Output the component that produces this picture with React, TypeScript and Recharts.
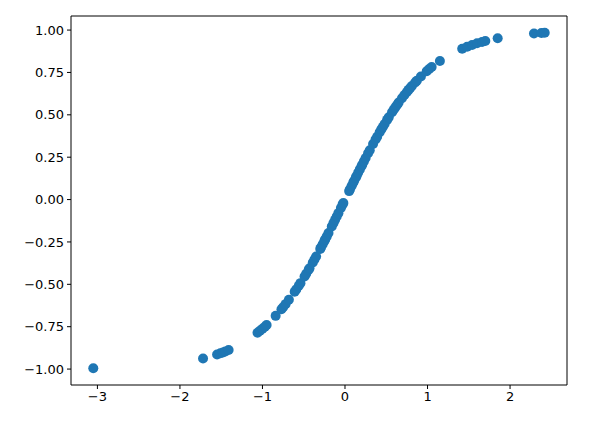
import { ScatterChart, Scatter, XAxis, YAxis, ReferenceArea } from 'recharts'

const xValues = [
    -3.05, -1.72, -1.55, -1.51, -1.48, -1.45, -1.41, -1.06, -1.03, -1.0, -0.97, -0.95,
    -0.84, -0.77, -0.75, -0.72, -0.68, -0.61, -0.59, -0.56, -0.54, -0.49, -0.47, -0.44,
    -0.43, -0.39, -0.37, -0.35, -0.3, -0.29, -0.27, -0.25, -0.24, -0.22, -0.2, -0.16,
    -0.14, -0.12, -0.1, -0.08, -0.05, -0.03, -0.02, 0.05, 0.06, 0.08, 0.1, 0.11,
    0.13, 0.14, 0.16, 0.18, 0.2, 0.21, 0.23, 0.25, 0.28, 0.3, 0.34, 0.37,
    0.39, 0.42, 0.44, 0.46, 0.48, 0.51, 0.53, 0.57, 0.59, 0.61, 0.63, 0.65,
    0.69, 0.72, 0.75, 0.77, 0.79, 0.81, 0.85, 0.87, 0.92, 0.99, 1.02, 1.05,
    1.15, 1.42, 1.48, 1.54, 1.6, 1.66, 1.7, 1.85, 2.29, 2.38, 2.42,
]

const yValues = [
    -0.995, -0.938, -0.914, -0.907, -0.902, -0.896, -0.887, -0.786, -0.774, -0.762, -0.75, -0.74,
    -0.686, -0.647, -0.635, -0.617, -0.591, -0.544, -0.53, -0.508, -0.493, -0.454, -0.438, -0.414,
    -0.405, -0.371, -0.354, -0.336, -0.291, -0.282, -0.264, -0.245, -0.235, -0.217, -0.197, -0.159,
    -0.139, -0.119, -0.1, -0.08, -0.05, -0.03, -0.02, 0.05, 0.06, 0.08, 0.1, 0.11,
    0.129, 0.139, 0.159, 0.178, 0.197, 0.207, 0.226, 0.245, 0.273, 0.291, 0.328, 0.354,
    0.371, 0.397, 0.414, 0.43, 0.446, 0.47, 0.485, 0.515, 0.53, 0.544, 0.558, 0.572,
    0.598, 0.617, 0.635, 0.647, 0.658, 0.67, 0.691, 0.701, 0.726, 0.757, 0.77, 0.782,
    0.818, 0.89, 0.902, 0.912, 0.922, 0.93, 0.935, 0.952, 0.98, 0.983, 0.984,
]

const xTicks = [-3, -2, -1, 0, 1, 2]
const yTicks = [-1, -0.75, -0.5, -0.25, 0, 0.25, 0.5, 0.75, 1]

const xDomain: [number, number] = [-3.32, 2.69]
const yDomain: [number, number] = [-1.094, 1.083]

const minus = (s: string) => s.replace('-', '\u2212')

export default function App() {
    const data = xValues.map((x, i) => ({ x, y: yValues[i] }))

    const tickStyle = { fill: '#000', fontSize: 13, fontFamily: 'DejaVu Sans' }

    return (
        <div style={{ position: 'absolute', left: 0, top: 0, width: 609, height: 424, background: '#fff' }}>
            <ScatterChart width={609} height={424} margin={{ top: 16, right: 42, bottom: 0, left: 0 }}>
                <XAxis
                    type="number"
                    dataKey="x"
                    domain={xDomain}
                    ticks={xTicks}
                    height={39}
                    tickSize={4}
                    tickMargin={3}
                    axisLine={false}
                    tickLine={{ stroke: '#000' }}
                    tick={tickStyle}
                    tickFormatter={(v: number) => minus(String(v))}
                    allowDataOverflow
                />
                <YAxis
                    type="number"
                    dataKey="y"
                    domain={yDomain}
                    ticks={yTicks}
                    width={71}
                    tickSize={4}
                    tickMargin={3}
                    axisLine={false}
                    tickLine={{ stroke: '#000' }}
                    tick={tickStyle}
                    tickFormatter={(v: number) => minus(v.toFixed(2))}
                    allowDataOverflow
                />
                <ReferenceArea
                    x1={xDomain[0]}
                    x2={xDomain[1]}
                    y1={yDomain[0]}
                    y2={yDomain[1]}
                    fill="none"
                    stroke="#000"
                    strokeWidth={1}
                />
                <Scatter
                    data={data}
                    fill="#1f77b4"
                    isAnimationActive={false}
                    shape={(props: any) => <circle cx={props.cx} cy={props.cy} r={5} fill="#1f77b4" />}
                />
            </ScatterChart>
        </div>
    )
}
